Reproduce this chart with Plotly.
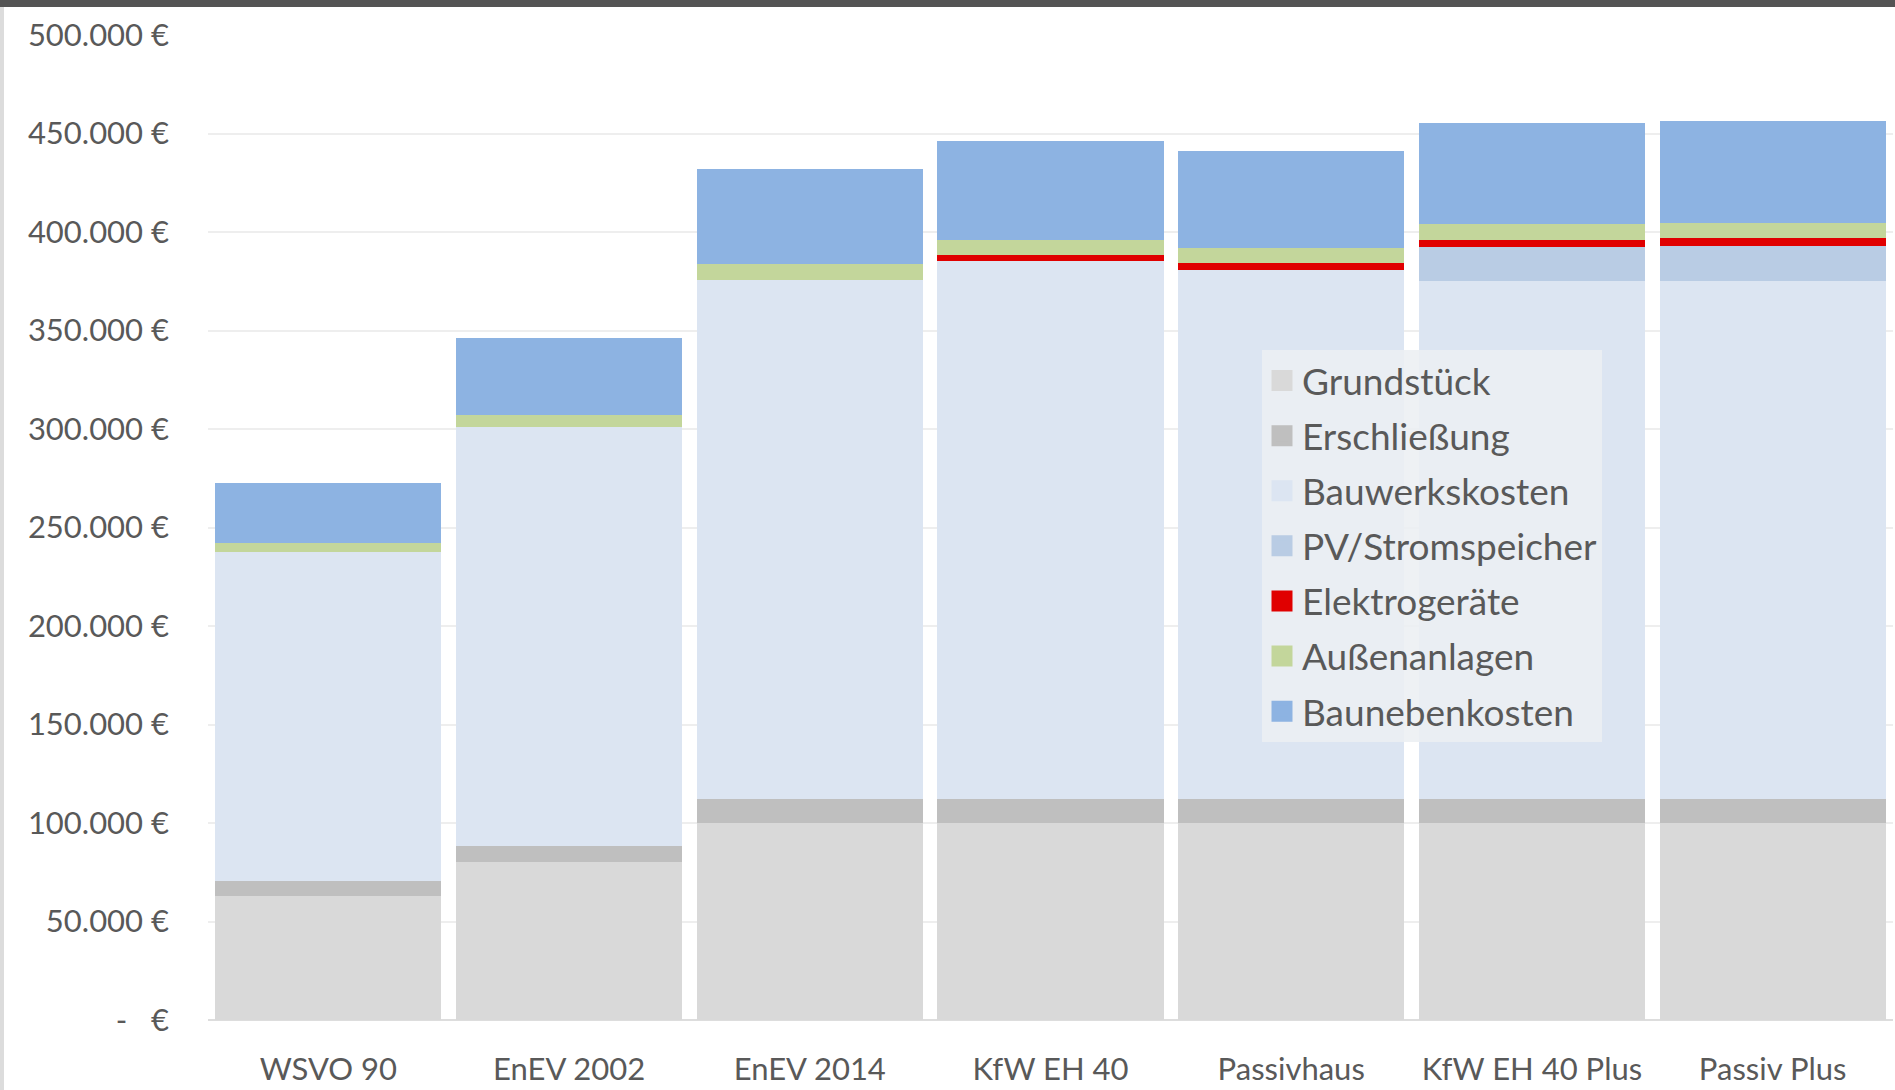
import plotly.graph_objects as go

categories = ["WSVO 90", "EnEV 2002", "EnEV 2014", "KfW EH 40", "Passivhaus", "KfW EH 40 Plus", "Passiv Plus"]
grundstueck = [63000, 80000, 100000, 100000, 100000, 100000, 100000]
erschliessung = [7500, 8500, 12000, 12000, 12000, 12000, 12000]
bauwerkskosten = [167000, 212700, 263600, 273300, 268700, 263000, 263000]
pv_stromspeicher = [0, 0, 0, 0, 0, 17500, 18000]
elektrogeraete = [0, 0, 0, 3000, 3400, 3400, 3800]
aussenanlagen = [4600, 6000, 8200, 7600, 8000, 8000, 8000]
baunebenkosten = [30700, 39000, 48200, 50300, 49000, 51300, 51300]

series_names = ["Grundstück", "Erschließung", "Bauwerkskosten", "PV/Stromspeicher",
                "Elektrogeräte", "Außenanlagen", "Baunebenkosten"]
series_values = [grundstueck, erschliessung, bauwerkskosten, pv_stromspeicher,
                 elektrogeraete, aussenanlagen, baunebenkosten]
series_colors = ["#d9d9d9", "#bfbfbf", "#dce5f2", "#b9cce4", "#e00000", "#c3d69b", "#8db3e2"]

tick_values = [0, 50000, 100000, 150000, 200000, 250000, 300000, 350000, 400000, 450000, 500000]
tick_labels = ["-   €", "50.000 €", "100.000 €", "150.000 €", "200.000 €", "250.000 €",
               "300.000 €", "350.000 €", "400.000 €", "450.000 €", "500.000 €"]

fig = go.Figure()
for name, vals, col in zip(series_names, series_values, series_colors):
    fig.add_trace(go.Bar(x=categories, y=vals, name=name, marker=dict(color=col, line=dict(width=0)),
                         showlegend=False))
for name, col in zip(series_names, series_colors):
    fig.add_trace(go.Scatter(x=[None], y=[None], mode="markers", name=name, legendgroup=name,
                             marker=dict(symbol="square", size=16, color=col, line=dict(width=5, color=col))))

W, H = 1895, 1090
ml, mr, mt, mb = 208, 2, 35, 70
pw, ph = W - ml - mr, H - mt - mb

fig.update_layout(
    width=W, height=H, autosize=False,
    margin=dict(l=ml, r=mr, t=mt, b=mb, pad=0),
    barmode="stack", bargap=0.06,
    paper_bgcolor="white", plot_bgcolor="white",
    font=dict(family="Lato", color="#595959", size=31),
    legend=dict(x=(1262 - ml) / pw, y=(H - mb - 350) / ph, xanchor="left", yanchor="top",
                bgcolor="rgba(236,239,243,0.88)", font=dict(size=37, color="#595959"),
                traceorder="grouped", tracegroupgap=4, itemclick=False),
    xaxis=dict(showgrid=False, showline=False, ticks="", tickfont=dict(size=31, color="#595959"),
               ticklabelstandoff=28),
    yaxis=dict(range=[0, 500000], tickvals=tick_values, ticktext=tick_labels,
               showgrid=True, gridcolor="#eeeeee", gridwidth=1.5,
               zeroline=True, zerolinecolor="#dddddd", zerolinewidth=1.5,
               ticks="", tickfont=dict(size=31, color="#595959"), ticklabelstandoff=38),
    shapes=[
        dict(type="rect", xref="paper", yref="paper", x0=-0.2, x1=1.1,
             y0=(H - mb - 7) / ph, y1=1.2, fillcolor="#545454", line=dict(width=0), layer="above"),
        dict(type="rect", xref="paper", yref="paper", x0=-ml / pw, x1=(-ml + 4) / pw,
             y0=-0.2, y1=(H - mb - 7) / ph, fillcolor="#dcdcdc", line=dict(width=0), layer="above"),
    ],
)

fig.write_html("out.html", config={"displayModeBar": False},
               post_script="document.body.style.margin='0px';")
